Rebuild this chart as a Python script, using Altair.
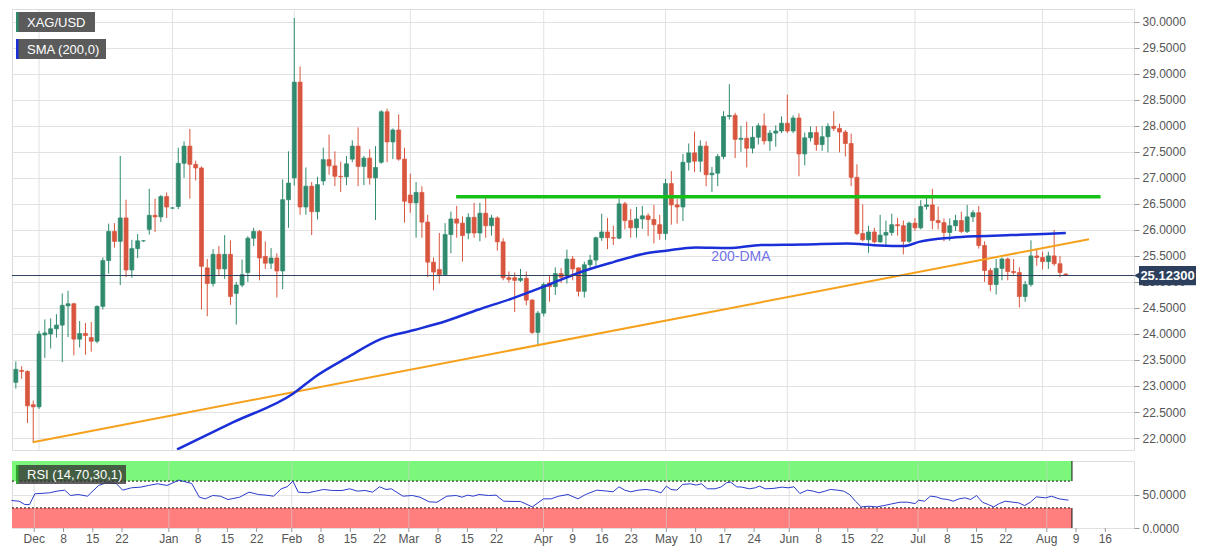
import altair as alt
import numpy as np
import pandas as pd

# ------------------------------------------------------------------ data
FIRST_DAY = "2020-11-25"
LAST_DAY = "2021-08-06"
CAL_END = "2021-08-31"
SKIPPED_DAYS = ["2021-04-02"]
ANCHOR_DAY = "2020-12-01"

opens = [23.07, 23.30, 23.28, 22.64, 22.60, 23.98, 24.00, 24.10, 24.17, 24.54,
         24.58, 23.90, 24.01, 23.93, 23.86, 24.53, 25.41, 25.97, 25.78, 26.23,
         25.23, 25.64, 25.79, 26.01, 26.28, 26.25, 26.64, 26.42, 26.45, 27.28,
         27.61, 27.26, 27.19, 25.27, 24.97, 25.53, 25.25, 25.53, 24.78, 24.94,
         25.18, 25.84, 25.97, 25.49, 25.36, 25.46, 25.21, 26.58, 27.00, 28.84,
         26.44, 26.84, 26.35, 26.94, 27.35, 27.23, 27.03, 27.02, 27.36, 27.61,
         27.22, 27.38, 27.00, 27.30, 28.27, 27.69, 27.92, 27.36, 26.67, 26.52,
         26.72, 26.15, 25.38, 25.24, 25.14, 25.91, 26.21, 26.13, 25.94, 26.24,
         25.94, 26.32, 26.08, 26.23, 25.77, 25.08, 25.08, 25.03, 25.07, 24.65,
         24.03, 24.40, 24.98, 24.91, 25.16, 25.12, 25.44, 25.27, 24.82, 25.33,
         25.42, 25.85, 25.96, 25.85, 25.84, 26.50, 26.18, 26.04, 26.21, 26.27,
         26.20, 26.10, 25.93, 26.89, 26.48, 26.44, 27.30, 27.48, 27.32, 27.61,
         27.06, 27.09, 27.41, 28.18, 28.20, 27.74, 27.76, 27.57, 27.78, 28.00,
         27.71, 27.86, 27.90, 28.05, 27.90, 28.15, 27.46, 27.77, 27.87, 27.64,
         27.79, 27.99, 27.95, 27.88, 27.66, 27.01, 25.93, 25.81, 25.96, 25.77,
         25.90, 25.95, 26.10, 26.08, 25.78, 26.13, 26.04, 26.45, 26.48, 26.18,
         26.14, 25.95, 26.08, 26.18, 25.97, 26.25, 26.33, 25.70, 25.22, 24.95,
         25.26, 25.44, 25.20, 25.18, 24.72, 24.95, 25.50, 25.47, 25.39, 25.50,
         25.35, 25.15]
highs = [23.47, 23.38, 23.30, 22.72, 24.06, 24.28, 24.30, 24.38, 24.78, 24.83,
         24.60, 24.25, 24.21, 24.23, 24.55, 25.47, 26.12, 26.13, 27.42, 26.58,
         25.81, 25.92, 25.80, 26.79, 26.60, 26.67, 26.72, 26.44, 27.58, 27.70,
         27.94, 27.33, 27.22, 25.44, 25.63, 25.69, 25.90, 25.80, 25.00, 25.43,
         25.88, 26.04, 26.00, 25.78, 25.65, 25.55, 26.97, 27.51, 30.07, 29.14,
         27.20, 26.92, 27.02, 27.58, 27.83, 27.51, 27.31, 27.42, 27.72, 27.97,
         27.42, 27.55, 27.61, 28.30, 28.33, 27.95, 28.22, 27.58, 27.08, 26.92,
         26.84, 26.29, 25.47, 25.94, 26.13, 26.35, 26.46, 26.26, 26.32, 26.52,
         26.52, 26.62, 26.29, 26.26, 25.84, 25.20, 25.18, 25.25, 25.20, 24.67,
         24.44, 24.99, 25.13, 25.28, 25.27, 25.62, 25.50, 25.28, 25.39, 25.52,
         25.87, 26.31, 26.23, 26.08, 26.60, 26.54, 26.40, 26.44, 26.46, 26.32,
         26.48, 26.29, 26.98, 27.13, 26.60, 27.46, 27.66, 27.89, 27.72, 27.70,
         27.21, 27.46, 28.28, 28.80, 28.25, 28.00, 28.08, 27.99, 28.05, 28.24,
         27.92, 28.01, 28.18, 28.60, 28.20, 28.24, 27.87, 27.99, 27.99, 28.00,
         28.05, 28.28, 28.04, 27.92, 27.85, 27.26, 26.49, 26.08, 26.04, 26.29,
         26.18, 26.31, 26.23, 26.18, 26.16, 26.23, 26.57, 26.64, 26.79, 26.45,
         26.22, 26.22, 26.29, 26.35, 26.48, 26.38, 26.46, 25.78, 25.27, 25.44,
         25.47, 25.47, 25.44, 25.28, 25.02, 25.80, 25.63, 25.58, 25.58, 26.00,
         25.50, 25.17]
lows = [22.95, 23.14, 22.29, 21.92, 22.56, 23.54, 23.72, 23.93, 23.46, 23.94,
        23.59, 23.74, 23.60, 23.66, 23.82, 24.47, 25.16, 25.66, 24.94, 25.09,
        25.08, 25.46, 25.77, 25.91, 25.96, 26.15, 26.23, 26.40, 26.40, 27.00,
        26.60, 26.95, 24.47, 24.34, 24.91, 25.13, 25.06, 24.56, 24.18, 24.90,
        25.00, 25.69, 25.03, 25.25, 25.25, 24.70, 24.86, 26.04, 26.85, 26.29,
        26.29, 25.90, 26.20, 26.86, 27.06, 26.84, 26.73, 26.86, 27.30, 26.84,
        26.86, 26.87, 26.19, 27.27, 27.30, 27.36, 27.33, 26.14, 26.33, 25.85,
        25.85, 25.09, 24.84, 24.97, 25.13, 25.55, 25.85, 25.39, 25.82, 25.85,
        25.78, 25.85, 25.89, 25.60, 25.03, 24.99, 24.42, 25.00, 24.55, 24.00,
        23.79, 24.34, 24.62, 24.75, 24.98, 24.97, 25.03, 24.72, 24.70, 25.25,
        25.31, 25.79, 25.63, 25.71, 25.82, 26.01, 25.85, 25.85, 26.02, 25.88,
        25.74, 25.81, 25.81, 26.10, 26.12, 26.17, 27.14, 27.11, 27.11, 26.84,
        26.73, 26.84, 27.36, 28.12, 27.38, 27.50, 27.20, 27.47, 27.64, 27.64,
        27.52, 27.60, 27.86, 27.86, 27.86, 27.03, 27.24, 27.70, 27.52, 27.52,
        27.49, 27.90, 27.49, 27.41, 26.84, 25.90, 25.78, 25.56, 25.74, 25.75,
        25.69, 25.89, 25.89, 25.53, 25.75, 25.98, 26.01, 26.39, 26.01, 26.01,
        25.78, 25.79, 25.98, 25.94, 25.94, 26.15, 25.64, 25.00, 24.82, 24.76,
        25.03, 25.03, 25.14, 24.51, 24.62, 24.91, 25.31, 25.24, 25.25, 25.31,
        25.09, 25.12]
closes = [23.32, 23.28, 22.62, 22.60, 24.00, 24.02, 24.10, 24.17, 24.55, 24.58,
          23.90, 24.01, 23.97, 23.86, 24.53, 25.41, 25.97, 25.78, 26.23, 25.23,
          25.64, 25.79, 25.79, 26.28, 26.25, 26.64, 26.44, 26.42, 27.28, 27.61,
          27.26, 27.19, 25.30, 24.97, 25.53, 25.25, 25.53, 24.72, 24.94, 25.14,
          25.84, 25.97, 25.46, 25.36, 25.46, 25.21, 26.58, 26.90, 28.84, 26.44,
          26.84, 26.35, 26.87, 27.35, 27.23, 27.03, 27.02, 27.27, 27.61, 27.22,
          27.38, 27.00, 27.20, 28.27, 27.69, 27.92, 27.36, 26.55, 26.52, 26.72,
          26.15, 25.38, 25.19, 25.14, 25.91, 26.21, 26.13, 25.89, 26.24, 25.94,
          26.32, 26.08, 26.23, 25.77, 25.08, 25.05, 25.03, 25.07, 24.65, 24.03,
          24.40, 24.95, 24.91, 25.16, 25.09, 25.44, 25.25, 24.82, 25.33, 25.42,
          25.85, 25.96, 25.85, 25.84, 26.50, 26.18, 26.04, 26.21, 26.27, 26.20,
          26.10, 25.93, 26.89, 26.48, 26.44, 27.30, 27.48, 27.32, 27.61, 27.06,
          27.09, 27.41, 28.18, 28.20, 27.74, 27.76, 27.57, 27.78, 28.00, 27.71,
          27.86, 27.90, 28.05, 27.90, 28.15, 27.46, 27.77, 27.87, 27.64, 27.79,
          27.99, 27.95, 27.88, 27.66, 27.01, 25.93, 25.81, 25.96, 25.77, 25.90,
          25.95, 26.10, 26.08, 25.78, 26.13, 26.04, 26.45, 26.48, 26.18, 26.14,
          25.95, 26.08, 26.18, 25.97, 26.25, 26.33, 25.70, 25.22, 24.95, 25.26,
          25.44, 25.20, 25.18, 24.72, 24.95, 25.50, 25.47, 25.39, 25.50, 25.35,
          25.18, 25.123]

LAST_PRICE = 25.123
LAST_PRICE_TEXT = "25.12300"

# 200-day SMA (trading-day position, value)
sma_pos = [23.8, 33.4, 43.9, 47.5, 53.2, 58.9, 64.5, 70.2, 75.8, 81.5, 87.7,
           93.4, 99.0, 104.7, 108.1, 113.2, 118.8, 124.5, 131.9, 139.2, 144.9,
           149.1, 151.7, 157.3, 161.9, 167.5, 173.2, 177.0]
sma_val = [21.78, 22.30, 22.86, 23.17, 23.55, 23.90, 24.07, 24.25, 24.47, 24.68,
           24.94, 25.19, 25.38, 25.55, 25.60, 25.66, 25.65, 25.71, 25.72, 25.74,
           25.70, 25.69, 25.77, 25.85, 25.88, 25.90, 25.92, 25.94]

# support trend line and horizontal resistance
trend_pos = [-1.1, 181.0]
trend_val = [21.92, 25.82]
res_pos = [71.9, 183.0]
res_val = [26.636, 26.636]

# RSI(14)
rsi_pos = [-3.9, -2.6, -1.6, -0.8, 0.1, 2.6, 3.9, 5.2, 6.2, 7.5, 9.1, 11.0, 12.3,
           14.0, 15.1, 16.6, 18.2, 19.5, 21.1, 22.7, 24.7, 26.9, 28.2, 29.2, 30.5,
           31.8, 33.1, 35.1, 36.7, 38.3, 39.6, 40.9, 42.2, 43.2, 44.2, 45.1, 46.8,
           48.1, 49.4, 51.0, 52.6, 53.9, 55.2, 56.5, 57.8, 59.0, 60.1, 61.0, 63.0,
           64.6, 65.9, 67.5, 68.8, 70.5, 72.1, 73.1, 74.0, 75.0, 76.0, 77.6, 78.9,
           80.2, 83.1, 85.1, 87.0, 88.3, 89.6, 91.2, 92.9, 94.2, 96.1, 98.0, 98.9,
           99.9, 100.9, 101.9, 103.2, 104.5, 105.8, 107.1, 108.0, 108.8, 109.8,
           110.8, 112.1, 113.1, 114.0, 115.0, 116.3, 117.3, 118.3, 119.0, 120.0,
           120.9, 122.2, 123.2, 123.9, 124.9, 126.2, 127.8, 128.8, 129.8, 130.8,
           132.1, 133.1, 134.1, 135.1, 136.0, 137.3, 138.3, 139.3, 140.3, 141.3,
           142.6, 143.9, 145.2, 146.5, 147.9, 149.2, 150.5, 151.1, 152.1, 153.1,
           154.1, 155.1, 156.1, 157.0, 158.0, 159.0, 160.0, 161.0, 162.0, 163.0,
           163.9, 164.9, 165.9, 167.2, 168.2, 169.2, 170.2, 171.2, 172.8, 173.8,
           175.1, 176.7]
rsi_val = [41, 40, 35, 35, 51, 52.5, 55, 56.5, 48.5, 50, 47.5, 63.5, 67.5,
           66.5, 56.5, 60, 61, 63.5, 66, 63.5, 71.5, 66.5, 46, 43.5, 48.5,
           47.5, 42.5, 46, 53.5, 50, 49, 47.5, 58.5, 61.5, 70, 53.5, 52.5,
           55, 57.5, 56, 56, 58.5, 55, 56, 53.5, 61.5, 57.5, 58.5, 47.5,
           48.5, 46, 39, 38.5, 47.5, 48.5, 46, 49, 47.5, 50, 48.5, 49,
           40, 39.5, 31.5, 43.5, 43.5, 47.5, 50, 43.5, 50, 56.5, 55, 54,
           61.5, 56.5, 54, 56.5, 57.5, 56, 52.5, 62.5, 57.5, 56.5,
           65, 66, 64, 66, 58.5, 58.5, 61, 67.5, 68.5, 61.5,
           61, 58.5, 60, 62.5, 58.5, 59, 61, 60, 61.5, 51.5,
           56.5, 55, 52.5, 55, 57.5, 56.5, 55, 50, 40, 31.5,
           32.5, 31.5, 33.5, 36, 38.5, 38.5, 36.5, 41.5, 40, 47.5,
           46.5, 43.5, 42.5, 40, 43.5, 45, 42.5, 48.5, 38.5, 35,
           31.5, 36.5, 40, 38.5, 37.5, 33.5, 38.5, 46.5, 45, 47.5,
           43.5, 41.5]
RSI_HIGH = 70
RSI_LOW = 30

TICK_DATES = ["2020-12-01", "2020-12-08", "2020-12-15", "2020-12-22",
              "2021-01-01", "2021-01-08", "2021-01-15", "2021-01-22",
              "2021-02-01", "2021-02-08", "2021-02-15", "2021-02-22",
              "2021-03-01", "2021-03-08", "2021-03-15", "2021-03-22",
              "2021-04-01", "2021-04-09", "2021-04-16", "2021-04-23",
              "2021-05-03", "2021-05-10", "2021-05-17", "2021-05-24",
              "2021-06-01", "2021-06-08", "2021-06-15", "2021-06-22",
              "2021-07-01", "2021-07-08", "2021-07-15", "2021-07-22",
              "2021-08-02", "2021-08-09", "2021-08-16"]
TICK_LABELS = ["Dec", "8", "15", "22", "Jan", "8", "15", "22", "Feb", "8", "15", "22",
               "Mar", "8", "15", "22", "Apr", "9", "16", "23", "May", "10", "17", "24",
               "Jun", "8", "15", "22", "Jul", "8", "15", "22", "Aug", "9", "16"]
MONTH_DATES = ["2020-12-01", "2021-01-01", "2021-02-01", "2021-03-01", "2021-04-01",
               "2021-05-03", "2021-06-01", "2021-07-01", "2021-08-02"]
PRICE_TICKS = [22.0, 22.5, 23.0, 23.5, 24.0, 24.5, 25.0, 25.5, 26.0, 26.5,
               27.0, 27.5, 28.0, 28.5, 29.0, 29.5, 30.0]

# ------------------------------------------------------------------ build tables
cal = pd.bdate_range(FIRST_DAY, CAL_END)
cal = cal[~cal.isin(pd.to_datetime(SKIPPED_DAYS))]
pos = pd.Series(np.arange(len(cal)), index=cal)
pos = pos - pos[pd.Timestamp(ANCHOR_DAY)]
days = cal[cal <= pd.Timestamp(LAST_DAY)]

df = pd.DataFrame({"i": pos[days].values, "open": opens, "high": highs,
                   "low": lows, "close": closes})
df["dir"] = np.where(df["close"] >= df["open"], "up", "down")

tick_vals = [int(pos[pd.Timestamp(d)]) for d in TICK_DATES]
tick_df = pd.DataFrame({"i": tick_vals, "label": TICK_LABELS})
month_df = pd.DataFrame({"i": [int(pos[pd.Timestamp(d)]) for d in MONTH_DATES]})
sma_df = pd.DataFrame({"i": sma_pos, "v": sma_val})
trend_df = pd.DataFrame({"i": trend_pos, "v": trend_val})
res_df = pd.DataFrame({"i": res_pos, "v": res_val})
rsi_df = pd.DataFrame({"i": rsi_pos, "v": rsi_val})
last_df = pd.DataFrame({"v": [LAST_PRICE], "t": [LAST_PRICE_TEXT]})
last_df["lo"] = last_df["v"] - 0.185
last_df["hi"] = last_df["v"] + 0.185
dma_df = pd.DataFrame({"i": [121.0], "v": [25.47], "t": ["200-DMA"]})
one = pd.DataFrame({"a": [0]})

# ------------------------------------------------------------------ styling
W = 1122
H_MAIN = 441
H_RSI = 67
UP = "#2f8a6e"
DOWN = "#d8553e"
NAVY = "#2c3f5d"
FONT = "Liberation Sans"
band_end = float(df["i"].max()) + 0.3
X_DOMAIN = [-3.8, 187.9]

xscale = alt.Scale(domain=X_DOMAIN, nice=False, zero=False)
yscale = alt.Scale(domain=[21.77, 30.245], nice=False, zero=False)
cscale = alt.Scale(domain=["up", "down"], range=[UP, DOWN])
Xq = alt.X("i:Q", scale=xscale, axis=None)

yaxis = alt.Axis(orient="right", values=PRICE_TICKS, format=".4f", grid=True,
                 gridColor="#e2e2e2", gridWidth=1, tickColor="#9a9a9a", tickSize=5,
                 domain=False, labelColor="#555555", labelFontSize=12,
                 labelPadding=3, title=None, labelFont=FONT, labelOverlap=False,
                 labelFlush=False)


def Yp(field):
    return alt.Y(field, scale=yscale, axis=yaxis)


grid_main = alt.Chart(month_df).mark_rule(color="#e2e2e2", strokeWidth=1).encode(x=Xq)

wicks = alt.Chart(df).mark_rule(strokeWidth=1).encode(
    x=Xq, y=Yp("low:Q"), y2="high:Q",
    color=alt.Color("dir:N", scale=cscale, legend=None),
)
bodies = alt.Chart(df).mark_bar(size=4, strokeWidth=0.7).encode(
    x=Xq, y=Yp("open:Q"), y2="close:Q",
    color=alt.Color("dir:N", scale=cscale, legend=None),
    stroke=alt.Stroke("dir:N", scale=cscale, legend=None),
)
trend = alt.Chart(trend_df).mark_line(color="#f6a11c", strokeWidth=2).encode(
    x=Xq, y=Yp("v:Q"))
sma = alt.Chart(sma_df).mark_line(color="#1a2fd8", strokeWidth=2.5,
                                  interpolate="monotone", clip=True).encode(
    x=Xq, y=Yp("v:Q"))
res = alt.Chart(res_df).mark_line(color="#17c017", strokeWidth=3.5).encode(
    x=Xq, y=Yp("v:Q"))
cur = alt.Chart(last_df).mark_rule(color=NAVY, strokeWidth=1).encode(y=Yp("v:Q"))
dma_txt = alt.Chart(dma_df).mark_text(color="#7272e6", fontSize=14, font=FONT,
                                      align="center", baseline="middle").encode(
    x=Xq, y=Yp("v:Q"), text="t:N")

price_box = alt.Chart(last_df).mark_rect(color=NAVY).encode(
    x=alt.value(W + 5), x2=alt.value(W + 62), y=Yp("lo:Q"), y2="hi:Q")
price_ptr = alt.Chart(last_df).mark_point(shape="triangle-left", filled=True, size=45,
                                          color=NAVY, opacity=1).encode(
    x=alt.value(W + 3), y=Yp("v:Q"))
price_txt = alt.Chart(last_df).mark_text(color="white", fontSize=13, fontWeight="bold",
                                         font=FONT, align="center",
                                         baseline="middle").encode(
    x=alt.value(W + 33.5), y=Yp("v:Q"), text="t:N")


def tag(text, x0, x1, y0, y1, bar, fill="#5b5b5b", opacity=1.0):
    box = alt.Chart(one).mark_rect(color=fill, opacity=opacity).encode(
        x=alt.value(x0), x2=alt.value(x1), y=alt.value(y0), y2=alt.value(y1))
    side = alt.Chart(one).mark_rect(color=bar).encode(
        x=alt.value(x0), x2=alt.value(x0 + 2.5), y=alt.value(y0), y2=alt.value(y1))
    txt = alt.Chart(one).mark_text(text=text, color="white", fontSize=13, font=FONT,
                                   align="left", baseline="middle").encode(
        x=alt.value(x0 + 11), y=alt.value((y0 + y1) / 2 + 0.5))
    return box + side + txt


tag_xag = tag("XAG/USD", 4, 83, 3, 23, UP)
tag_sma = tag("SMA (200,0)", 4, 94, 30, 50, "#1a2fd8")

main = alt.layer(grid_main, wicks, bodies, trend, sma, res, cur, dma_txt,
                 price_box, price_ptr, price_txt, tag_xag, tag_sma).properties(
    width=W, height=H_MAIN)

# ------------------------------------------------------------------ RSI panel
Xn = alt.X("i:Q", scale=xscale, axis=None)
rscale = alt.Scale(domain=[0, 100], nice=False, zero=False)
raxis = alt.Axis(orient="right", values=[0, 50], format=".4f", grid=True,
                 gridColor="#e2e2e2", tickColor="#9a9a9a", tickSize=5, domain=False,
                 labelColor="#555555", labelFontSize=12, labelPadding=3,
                 labelFont=FONT, title=None, labelOverlap=False, labelFlush=False)

ob_df = pd.DataFrame({"x0": [X_DOMAIN[0]], "x1": [band_end], "lo": [RSI_HIGH], "hi": [100]})
os_df = pd.DataFrame({"x0": [X_DOMAIN[0]], "x1": [band_end], "lo": [0], "hi": [RSI_LOW]})
lvl_df = pd.DataFrame({"x0": [X_DOMAIN[0], X_DOMAIN[0]], "x1": [band_end, band_end],
                       "y": [RSI_HIGH, RSI_LOW]})
edge_df = pd.DataFrame({"x": [band_end, band_end], "lo": [RSI_HIGH, 0], "hi": [100, RSI_LOW]})

rsi_line = alt.Chart(rsi_df).mark_line(color="#2a3ccc", strokeWidth=1).encode(
    x=Xn, y=alt.Y("v:Q", scale=rscale, axis=raxis))
ob = alt.Chart(ob_df).mark_rect(color="#7df77b").encode(
    x=alt.X("x0:Q", scale=xscale, axis=None), x2="x1:Q",
    y=alt.Y("lo:Q", scale=rscale, axis=raxis), y2="hi:Q")
os_ = alt.Chart(os_df).mark_rect(color="#ff7e7e").encode(
    x=alt.X("x0:Q", scale=xscale, axis=None), x2="x1:Q",
    y=alt.Y("lo:Q", scale=rscale, axis=raxis), y2="hi:Q")
grid_rsi = alt.Chart(month_df).mark_rule(color="#d0d0d0", strokeWidth=1, opacity=0.6).encode(
    x=Xn)
levels = alt.Chart(lvl_df).mark_rule(color="#111111", strokeWidth=1, strokeDash=[2, 2]).encode(
    x=alt.X("x0:Q", scale=xscale, axis=None), x2="x1:Q",
    y=alt.Y("y:Q", scale=rscale, axis=raxis))
edges = alt.Chart(edge_df).mark_rule(color="#111111", strokeWidth=1).encode(
    x=alt.X("x:Q", scale=xscale, axis=None),
    y=alt.Y("lo:Q", scale=rscale, axis=raxis), y2="hi:Q")
# x-axis: tick marks and labels drawn from the tick table
ticks = alt.Chart(tick_df).mark_rule(color="#9a9a9a", strokeWidth=1).encode(
    x=Xn, y=alt.value(H_RSI), y2=alt.value(H_RSI + 4))
tick_txt = alt.Chart(tick_df).mark_text(color="#555555", fontSize=12, font=FONT,
                                        baseline="top", align="center").encode(
    x=Xn, y=alt.value(H_RSI + 6), text="label:N")
tag_rsi = tag("RSI (14,70,30,1)", 4, 114, 4, 23, "#2fa52f", fill="#333333", opacity=0.78)

rsi = alt.layer(ob, os_, grid_rsi, levels, edges, rsi_line, ticks, tick_txt,
                tag_rsi).properties(width=W, height=H_RSI)

chart = alt.vconcat(main, rsi, spacing=9).properties(
    padding={"left": 0, "top": 0, "right": 0, "bottom": 0}
).configure_view(fill="#f6f6f7", stroke="#d3d7e0", strokeWidth=1).configure(
    font=FONT, background="white")

chart.save("out.html", embed_options={"renderer": "svg", "actions": False})
